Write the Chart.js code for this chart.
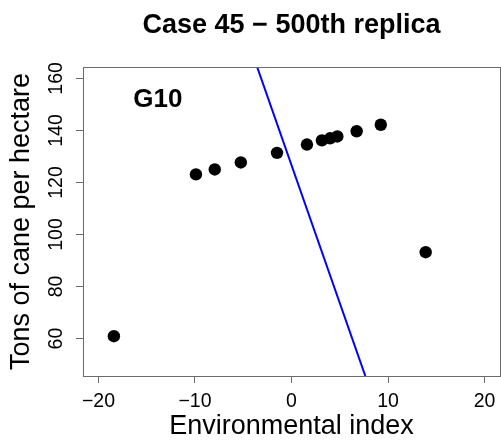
<!DOCTYPE html>
<html>
<head>
<meta charset="utf-8">
<script src="https://cdn.jsdelivr.net/npm/chart.js@4.4.0/dist/chart.umd.min.js"></script>
<style>
  body { margin: 0; background: #fff; }
  #myChart { display: block; }
</style>
</head>
<body>
<canvas id="myChart" width="501" height="440"></canvas>
<script>
'use strict'

let envIndex = [-18.4, -9.9, -7.95, -5.25, -1.5, 1.6, 3.15, 4.0, 4.75, 6.75, 9.25, 13.9];
let tons = [60.9, 123.1, 125.0, 127.7, 131.4, 134.6, 136.2, 137.0, 137.7, 139.7, 142.2, 93.2];

// the blue line, end points
let lineX = [-3.56, 7.65];
let lineY = [164.4, 45.6];

let xTicks = [-20, -10, 0, 10, 20];
let yTicks = [60, 80, 100, 120, 140, 160];

let titleText = 'Case 45 \u2212 500th replica';
let panelLabel = 'G10';

let fontName = '"Liberation Sans", Arial, Helvetica, sans-serif';
let axisGray = '#6b6b6b';

function toPoints(xs, ys) {
    let arr = [];
    for (let i = 0; i < xs.length; i++) {
        arr.push({x: xs[i], y: ys[i]});
    }
    return arr;
}

// box, main title and the G10 label
let extras = {
    id: 'extras',
    afterDraw(chart) {
        let ctx = chart.ctx;
        let area = chart.chartArea;
        ctx.save();
        ctx.strokeStyle = axisGray;
        ctx.lineWidth = 1;
        ctx.strokeRect(area.left + 0.5, area.top + 0.5, area.right - area.left, area.bottom - area.top);

        ctx.fillStyle = '#000';
        ctx.textAlign = 'center';
        ctx.textBaseline = 'middle';
        ctx.font = 'bold 27px ' + fontName;
        ctx.fillText(titleText, (area.left + area.right) / 2, 26);

        ctx.font = 'bold 26px ' + fontName;
        let gx = chart.scales.x.getPixelForValue(-13.85);
        let gy = chart.scales.y.getPixelForValue(151.6);
        ctx.fillText(panelLabel, gx, gy);
        ctx.restore();
    }
};

let ctx = document.getElementById('myChart').getContext('2d');
let myChart = new Chart(ctx, {
    type: 'scatter',
    data: {
        datasets: [{
            label: 'G10',
            data: toPoints(envIndex, tons),
            backgroundColor: '#000',
            borderWidth: 0,
            pointRadius: 6.2
        }, {
            type: 'line',
            label: 'fit',
            data: toPoints(lineX, lineY),
            borderColor: '#0000ff',
            borderWidth: 2,
            pointRadius: 0,
            fill: false
        }]
    },
    options: {
        responsive: false,
        animation: false,
        layout: {
            autoPadding: false,
            padding: {left: 0, top: 67, right: 1, bottom: 0}
        },
        plugins: {
            legend: {display: false},
            tooltip: {enabled: false}
        },
        scales: {
            x: {
                type: 'linear',
                min: -21.6,
                max: 21.6,
                afterBuildTicks: function (scale) {
                    scale.ticks = xTicks.map(v => ({value: v}));
                },
                afterFit: function (scale) {
                    scale.height = 64;
                    scale.paddingLeft = 0;
                    scale.paddingRight = 0;
                },
                border: {display: false},
                grid: {
                    drawOnChartArea: false,
                    drawTicks: true,
                    tickLength: 7,
                    color: axisGray
                },
                ticks: {
                    color: '#000',
                    padding: 7,
                    maxRotation: 0,
                    font: {family: fontName, size: 19.5},
                    callback: v => String(v).replace('-', '\u2212')
                },
                title: {
                    display: true,
                    text: 'Environmental index',
                    color: '#000',
                    font: {family: fontName, size: 27, lineHeight: 1},
                    padding: {top: 0, bottom: 0}
                }
            },
            y: {
                type: 'linear',
                min: 45.6,
                max: 164.4,
                afterBuildTicks: function (scale) {
                    scale.ticks = yTicks.map(v => ({value: v}));
                },
                afterFit: function (scale) {
                    scale.width = 83;
                    scale.paddingTop = 0;
                    scale.paddingBottom = 0;
                },
                border: {display: false},
                grid: {
                    drawOnChartArea: false,
                    drawTicks: true,
                    tickLength: 7,
                    color: axisGray
                },
                ticks: {
                    color: '#000',
                    padding: 3,
                    minRotation: 90,
                    maxRotation: 90,
                    crossAlign: 'center',
                    font: {family: fontName, size: 19.5}
                },
                title: {
                    display: true,
                    text: 'Tons of cane per hectare',
                    color: '#000',
                    font: {family: fontName, size: 27, lineHeight: 1},
                    padding: {top: 8.5, bottom: 0}
                }
            }
        }
    },
    plugins: [extras]
});
</script>
</body>
</html>
